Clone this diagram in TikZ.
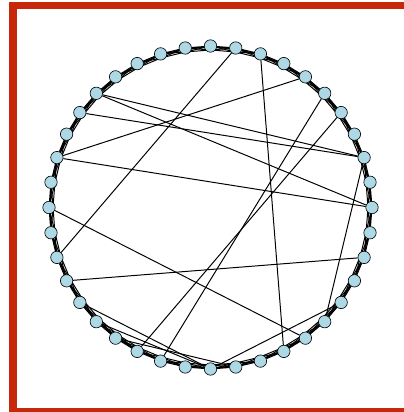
\documentclass[tikz,border=0pt]{standalone}
\usetikzlibrary{backgrounds}
\definecolor{framered}{HTML}{C8280A}
\definecolor{vertexblue}{HTML}{ADD8E6}

\begin{document}
\begin{tikzpicture}[x=0.025cm, y=-0.025cm,
  vertex/.style={circle, draw=black, fill=vertexblue, line width=0.45pt,
                 minimum size=0.31cm, inner sep=0pt},
  link/.style={black, line width=0.7pt}]
  \def\cx{210.5}   % ring centre x
  \def\cy{207.5}   % ring centre y
  \def\rad{161.5}  % ring radius
  \def\n{40}       % vertices on the ring
  \useasboundingbox (0,0) rectangle (403,412);
  % frame (right side falls off the page)
  \draw[framered, line width=0.175cm] (13,6) rectangle (440,411.5);
  % vertices, clockwise from the top
  \foreach \i in {0,...,39}{
    \node[vertex] (v\i) at ({\cx+\rad*cos(90-9*\i)}, {\cy-\rad*sin(90-9*\i)}) {};
  }
  \begin{scope}[on background layer]
    % ring lattice, three neighbours each way
    \foreach \i in {0,...,39}{
      \foreach \d in {1,2,3}{
        \pgfmathtruncatemacro{\j}{mod(\i+\d,\n)}
        \draw[link] (v\i) -- (v\j);
      }
    }
    % rewired shortcuts
    \foreach \a/\b in {28/1, 2/17, 4/32, 32/10, 35/8, 34/8, 35/10, 5/22, 6/23,
                       30/16, 27/12, 26/20, 25/20, 24/19, 8/15, 20/14}
      \draw[link] (v\a) -- (v\b);
  \end{scope}
\end{tikzpicture}
\end{document}
